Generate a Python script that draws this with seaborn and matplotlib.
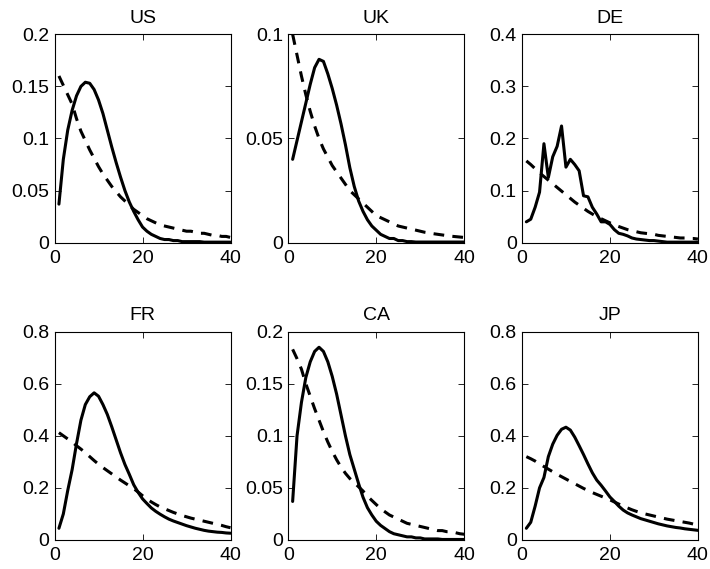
import numpy as np
import pandas as pd
import seaborn as sns
import matplotlib
matplotlib.use("Agg")
import matplotlib.pyplot as plt
from matplotlib.ticker import FuncFormatter

# horizon 1..40
horizon = list(range(1, 41))

countries = ["US", "UK", "DE", "FR", "CA", "JP"]

us_model = [0.037, 0.080, 0.108, 0.127, 0.141, 0.150, 0.154, 0.153, 0.147, 0.137,
            0.124, 0.108, 0.092, 0.077, 0.063, 0.050, 0.039, 0.030, 0.022, 0.015,
            0.011, 0.008, 0.006, 0.004, 0.003, 0.003, 0.002, 0.002, 0.001, 0.001,
            0.001, 0.001, 0.001, 0.0005, 0.0005, 0.0005, 0.0005, 0.0005, 0.0005, 0.0005]
us_data = [0.160, 0.151, 0.142, 0.133, 0.119, 0.107, 0.098, 0.089, 0.081, 0.073,
           0.066, 0.060, 0.054, 0.049, 0.044, 0.040, 0.036, 0.032, 0.029, 0.026,
           0.023, 0.021, 0.019, 0.017, 0.016, 0.015, 0.014, 0.013, 0.012, 0.011,
           0.011, 0.010, 0.009, 0.009, 0.008, 0.007, 0.007, 0.006, 0.006, 0.005]

uk_model = [0.040, 0.049, 0.058, 0.067, 0.076, 0.084, 0.088, 0.087, 0.081, 0.074,
            0.066, 0.057, 0.047, 0.036, 0.027, 0.020, 0.015, 0.011, 0.008, 0.006,
            0.004, 0.003, 0.002, 0.002, 0.001, 0.001, 0.0005, 0.0005, 0.0003, 0.0003,
            0.0003, 0.0003, 0.0003, 0.0003, 0.0003, 0.0003, 0.0003, 0.0003, 0.0003, 0.0003]
uk_data = [0.100, 0.090, 0.080, 0.071, 0.063, 0.056, 0.050, 0.045, 0.041, 0.037,
           0.034, 0.031, 0.028, 0.025, 0.023, 0.021, 0.019, 0.017, 0.015, 0.013,
           0.012, 0.011, 0.010, 0.009, 0.008, 0.0075, 0.007, 0.0065, 0.006, 0.0055,
           0.005, 0.0047, 0.0043, 0.004, 0.0037, 0.0034, 0.0031, 0.0029, 0.0027, 0.0025]

de_model = [0.040, 0.045, 0.068, 0.097, 0.190, 0.125, 0.165, 0.185, 0.224, 0.145,
            0.160, 0.150, 0.138, 0.090, 0.088, 0.068, 0.055, 0.040, 0.040, 0.035,
            0.025, 0.018, 0.016, 0.013, 0.009, 0.007, 0.006, 0.005, 0.004, 0.004,
            0.003, 0.002, 0.001, 0.001, 0.001, 0.001, 0.001, 0.001, 0.001, 0.001]
de_data = [0.157, 0.150, 0.142, 0.134, 0.127, 0.120, 0.113, 0.106, 0.099, 0.092,
           0.085, 0.078, 0.072, 0.066, 0.060, 0.055, 0.050, 0.046, 0.042, 0.038,
           0.034, 0.031, 0.028, 0.025, 0.023, 0.021, 0.019, 0.018, 0.017, 0.016,
           0.014, 0.013, 0.012, 0.011, 0.010, 0.009, 0.009, 0.008, 0.008, 0.007]

fr_model = [0.045, 0.100, 0.190, 0.270, 0.370, 0.460, 0.520, 0.550, 0.565, 0.552,
            0.520, 0.482, 0.435, 0.385, 0.335, 0.290, 0.252, 0.212, 0.183, 0.158,
            0.140, 0.123, 0.110, 0.099, 0.089, 0.080, 0.073, 0.067, 0.061, 0.055,
            0.050, 0.045, 0.041, 0.037, 0.034, 0.032, 0.030, 0.029, 0.027, 0.026]
fr_data = [0.412, 0.400, 0.388, 0.376, 0.362, 0.349, 0.335, 0.320, 0.305, 0.291,
           0.278, 0.266, 0.254, 0.242, 0.230, 0.219, 0.208, 0.197, 0.184, 0.170,
           0.157, 0.146, 0.136, 0.127, 0.120, 0.113, 0.106, 0.100, 0.094, 0.089,
           0.084, 0.080, 0.076, 0.072, 0.068, 0.064, 0.060, 0.056, 0.051, 0.047]

ca_model = [0.037, 0.100, 0.132, 0.156, 0.171, 0.181, 0.185, 0.181, 0.171, 0.157,
            0.140, 0.120, 0.100, 0.082, 0.068, 0.054, 0.041, 0.031, 0.024, 0.018,
            0.014, 0.011, 0.008, 0.006, 0.005, 0.004, 0.003, 0.003, 0.002, 0.002,
            0.001, 0.001, 0.001, 0.001, 0.0005, 0.0005, 0.0005, 0.0005, 0.0005, 0.0005]
ca_data = [0.183, 0.174, 0.164, 0.150, 0.138, 0.126, 0.115, 0.104, 0.094, 0.085,
           0.077, 0.070, 0.064, 0.059, 0.055, 0.051, 0.047, 0.042, 0.038, 0.034,
           0.030, 0.027, 0.024, 0.022, 0.020, 0.018, 0.016, 0.015, 0.014, 0.013,
           0.012, 0.011, 0.010, 0.009, 0.009, 0.008, 0.008, 0.007, 0.006, 0.0055]

jp_model = [0.045, 0.068, 0.130, 0.200, 0.240, 0.320, 0.368, 0.402, 0.425, 0.433,
            0.422, 0.395, 0.362, 0.328, 0.292, 0.258, 0.230, 0.210, 0.188, 0.165,
            0.148, 0.130, 0.115, 0.104, 0.096, 0.089, 0.082, 0.077, 0.072, 0.067,
            0.062, 0.058, 0.054, 0.051, 0.048, 0.046, 0.043, 0.041, 0.039, 0.037]
jp_data = [0.320, 0.312, 0.303, 0.292, 0.282, 0.272, 0.262, 0.252, 0.243, 0.234,
           0.225, 0.216, 0.207, 0.198, 0.190, 0.182, 0.175, 0.168, 0.161, 0.154,
           0.146, 0.138, 0.130, 0.123, 0.116, 0.110, 0.105, 0.100, 0.096, 0.092,
           0.088, 0.084, 0.080, 0.077, 0.074, 0.071, 0.068, 0.065, 0.061, 0.058]

model_series = [us_model, uk_model, de_model, fr_model, ca_model, jp_model]
data_series = [us_data, uk_data, de_data, fr_data, ca_data, jp_data]
y_max = [0.2, 0.1, 0.4, 0.8, 0.2, 0.8]
y_step = [0.05, 0.05, 0.1, 0.2, 0.05, 0.2]

sns.set_style("white")
plt.rcParams["font.family"] = ["Liberation Sans", "DejaVu Sans"]
plt.rcParams.update({
    "xtick.direction": "in",
    "ytick.direction": "in",
    "xtick.bottom": True,
    "ytick.left": True,
    "xtick.top": True,
    "ytick.right": True,
    "xtick.major.size": 4,
    "ytick.major.size": 4,
    "xtick.major.width": 0.6,
    "ytick.major.width": 0.6,
    "xtick.color": "black",
    "ytick.color": "black",
    "axes.edgecolor": "black",
    "axes.linewidth": 0.8,
})

fig, axes = plt.subplots(2, 3, figsize=(7.1, 5.69), dpi=100)
fig.subplots_adjust(left=0.0768, right=0.983, bottom=0.051, top=0.9397,
                    wspace=0.328, hspace=0.427)

for ax, name, model, data, ymax, step in zip(axes.flat, countries, model_series,
                                              data_series, y_max, y_step):
    df = pd.DataFrame({
        "h": horizon * 2,
        "value": model + data,
        "kind": ["model"] * len(horizon) + ["data"] * len(horizon),
    })
    sns.lineplot(data=df, x="h", y="value", style="kind",
                 dashes={"model": "", "data": (3.5, 2.7)},
                 color="black", linewidth=2.2, legend=False, ax=ax)
    ax.set_xlim(0, 40)
    ax.set_ylim(0, ymax)
    ax.set_xticks([0, 20, 40])
    ax.set_yticks(np.arange(0, ymax + step / 2, step))
    ax.yaxis.set_major_formatter(FuncFormatter(lambda v, p: "%g" % round(v, 3)))
    ax.set_xlabel("")
    ax.set_ylabel("")
    ax.set_title(name, fontsize=14, pad=8.5, color="black")
    ax.tick_params(axis="both", labelsize=14, labelcolor="black")
    ax.tick_params(axis="x", pad=5)
    ax.tick_params(axis="y", pad=3.8)
    for sp in ax.spines.values():
        sp.set_visible(True)

fig.savefig("out.png", dpi=100)
